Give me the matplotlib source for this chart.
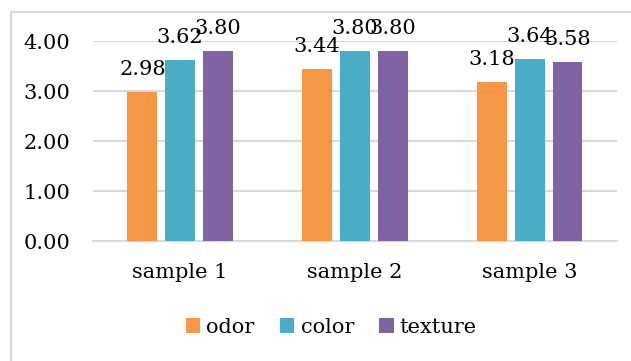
import numpy as np
import matplotlib.pyplot as plt
from matplotlib.patches import Rectangle

# sensory scores per sample
samples = ['sample 1', 'sample 2', 'sample 3']
odor = [2.98, 3.44, 3.18]
color = [3.62, 3.80, 3.64]
texture = [3.80, 3.80, 3.58]

series = [('odor', odor, '#F79646'),
          ('color', color, '#4BACC6'),
          ('texture', texture, '#8064A2')]

plt.rcParams['font.family'] = 'DejaVu Serif'
grid_col = '#d9d9d9'
fs = 15

fig = plt.figure(figsize=(6.31, 3.61), dpi=100)
ax = fig.add_axes([0.147, 0.332, 0.831, 0.554])

# light frame around the whole chart
fig.patches.append(Rectangle((11 / 631, -0.2), 1.0, 1.2 - 12 / 361,
                             transform=fig.transFigure, fill=False,
                             edgecolor=grid_col, linewidth=1.5))

x = np.arange(len(samples))
width = 0.171
step = 0.216
for i, (name, vals, col) in enumerate(series):
    pos = x + (i - 1) * step
    bars = ax.bar(pos, vals, width, color=col, label=name, zorder=3)
    for b, v in zip(bars, vals):
        ax.annotate(f'{v:.2f}', (b.get_x() + b.get_width() / 2, v),
                    xytext=(0, 12), textcoords='offset points',
                    ha='center', va='baseline', fontsize=fs)

ax.set_xlim(-0.5, 2.5)
ax.set_ylim(0, 4)
ax.set_yticks([0, 1, 2, 3, 4])
ax.set_yticklabels([f'{t:.2f}' for t in [0, 1, 2, 3, 4]], fontsize=fs)
ax.set_xticks(x)
ax.set_xticklabels(samples, fontsize=fs)
ax.tick_params(length=0, pad=16)
ax.grid(axis='y', color=grid_col, linewidth=1.5, zorder=0)
for s in ['top', 'right', 'left']:
    ax.spines[s].set_visible(False)
ax.spines['bottom'].set_color(grid_col)
ax.spines['bottom'].set_linewidth(1.5)

fig.legend(loc='center', bbox_to_anchor=(0.525, 0.094), ncol=3, frameon=False,
           fontsize=fs, handlelength=0.7, handleheight=0.7,
           handletextpad=0.3, columnspacing=1.2)

plt.savefig('out.png', dpi=100)
